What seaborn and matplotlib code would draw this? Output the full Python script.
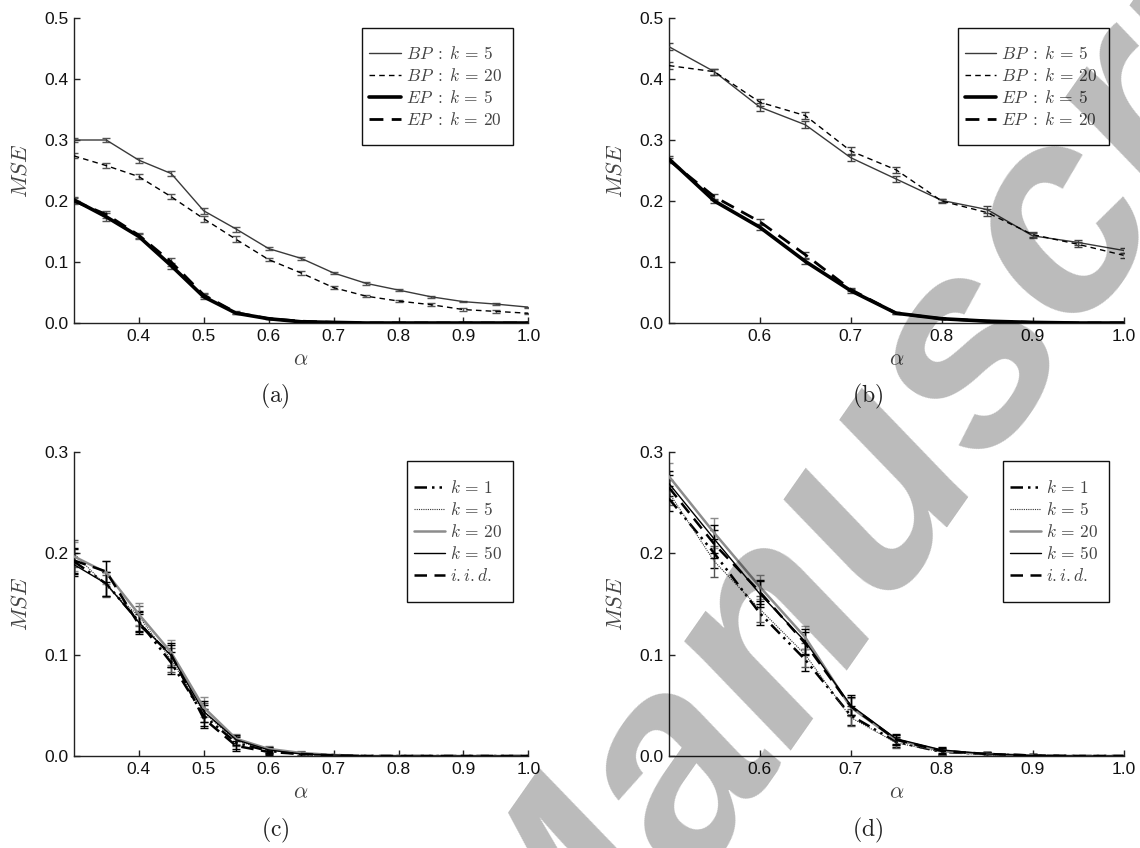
import numpy as np
import pandas as pd
import matplotlib
matplotlib.use("Agg")
import matplotlib.pyplot as plt
import seaborn as sns
from matplotlib.patches import Rectangle
from matplotlib.ticker import FormatStrFormatter

sns.set_theme(style="white")
plt.rcParams["font.family"] = ["Liberation Sans", "DejaVu Sans"]
plt.rcParams["mathtext.fontset"] = "cm"

# ---------------- data ----------------
alpha_low = [0.30, 0.35, 0.40, 0.45, 0.50, 0.55, 0.60, 0.65, 0.70, 0.75, 0.80, 0.85, 0.90, 0.95, 1.00]
alpha_high = [0.50, 0.55, 0.60, 0.65, 0.70, 0.75, 0.80, 0.85, 0.90, 0.95, 1.00]

# (a) BP vs EP, alpha from 0.3
bp5_a = [0.300, 0.300, 0.267, 0.245, 0.184, 0.154, 0.122, 0.106, 0.082, 0.065, 0.054, 0.043, 0.035, 0.031, 0.026]
bp20_a = [0.274, 0.258, 0.240, 0.207, 0.171, 0.137, 0.104, 0.082, 0.058, 0.044, 0.036, 0.030, 0.022, 0.019, 0.016]
ep5_a = [0.202, 0.174, 0.142, 0.094, 0.043, 0.016, 0.007, 0.002, 0.001, 0.0, 0.0, 0.0, 0.0, 0.0, 0.0]
ep20_a = [0.200, 0.178, 0.144, 0.100, 0.046, 0.017, 0.007, 0.003, 0.001, 0.0, 0.0, 0.0, 0.0, 0.0, 0.0]
bp5_a_err = [0.004, 0.004, 0.004, 0.004, 0.005, 0.004, 0.003, 0.003, 0.002, 0.002, 0.002, 0.002, 0.001, 0.001, 0.001]
bp20_a_err = [0.004, 0.004, 0.004, 0.004, 0.005, 0.005, 0.003, 0.003, 0.003, 0.002, 0.002, 0.002, 0.002, 0.002, 0.001]
ep5_a_err = [0.005, 0.006, 0.004, 0.005, 0.004, 0.002, 0.001, 0.0, 0.0, 0.0, 0.0, 0.0, 0.0, 0.0, 0.0]
ep20_a_err = [0.005, 0.006, 0.004, 0.006, 0.004, 0.002, 0.001, 0.0, 0.0, 0.0, 0.0, 0.0, 0.0, 0.0, 0.0]

# (b) BP vs EP, alpha from 0.5
bp5_b = [0.453, 0.412, 0.354, 0.325, 0.271, 0.236, 0.201, 0.186, 0.143, 0.132, 0.119]
bp20_b = [0.422, 0.412, 0.362, 0.340, 0.282, 0.251, 0.200, 0.181, 0.145, 0.129, 0.111]
ep5_b = [0.269, 0.200, 0.157, 0.101, 0.053, 0.016, 0.007, 0.003, 0.001, 0.0, 0.0]
ep20_b = [0.267, 0.207, 0.166, 0.112, 0.055, 0.016, 0.007, 0.003, 0.001, 0.0, 0.0]
bp5_b_err = [0.006, 0.005, 0.006, 0.006, 0.006, 0.005, 0.003, 0.006, 0.004, 0.004, 0.004]
bp20_b_err = [0.006, 0.005, 0.006, 0.006, 0.007, 0.005, 0.003, 0.006, 0.004, 0.004, 0.004]
ep5_b_err = [0.004, 0.004, 0.005, 0.004, 0.003, 0.002, 0.001, 0.0, 0.0, 0.0, 0.0]
ep20_b_err = [0.004, 0.005, 0.005, 0.005, 0.003, 0.002, 0.001, 0.0, 0.0, 0.0, 0.0]

# (c) EP for several k, alpha from 0.3
k1_c = [0.192, 0.170, 0.133, 0.092, 0.040, 0.013, 0.005, 0.002, 0.001, 0.0, 0.0, 0.0, 0.0, 0.0, 0.0]
k5_c = [0.200, 0.168, 0.138, 0.095, 0.043, 0.015, 0.006, 0.002, 0.001, 0.0, 0.0, 0.0, 0.0, 0.0, 0.0]
k20_c = [0.197, 0.181, 0.140, 0.102, 0.048, 0.017, 0.007, 0.003, 0.001, 0.0, 0.0, 0.0, 0.0, 0.0, 0.0]
k50_c = [0.189, 0.170, 0.132, 0.099, 0.044, 0.016, 0.006, 0.002, 0.001, 0.0, 0.0, 0.0, 0.0, 0.0, 0.0]
iid_c = [0.193, 0.182, 0.130, 0.100, 0.037, 0.010, 0.004, 0.002, 0.0005, 0.0, 0.0, 0.0, 0.0, 0.0, 0.0]
k1_c_err = [0.012, 0.012, 0.010, 0.011, 0.010, 0.006, 0.003, 0.002, 0.0, 0.0, 0.0, 0.0, 0.0, 0.0, 0.0]
k5_c_err = [0.013, 0.011, 0.010, 0.012, 0.009, 0.005, 0.003, 0.002, 0.0, 0.0, 0.0, 0.0, 0.0, 0.0, 0.0]
k20_c_err = [0.014, 0.011, 0.011, 0.012, 0.010, 0.005, 0.003, 0.002, 0.0, 0.0, 0.0, 0.0, 0.0, 0.0, 0.0]
k50_c_err = [0.011, 0.012, 0.010, 0.011, 0.010, 0.005, 0.003, 0.002, 0.0, 0.0, 0.0, 0.0, 0.0, 0.0, 0.0]
iid_c_err = [0.012, 0.010, 0.010, 0.012, 0.009, 0.005, 0.003, 0.002, 0.0, 0.0, 0.0, 0.0, 0.0, 0.0, 0.0]

# (d) EP for several k, alpha from 0.5
k1_d = [0.254, 0.200, 0.141, 0.095, 0.040, 0.014, 0.004, 0.002, 0.0005, 0.0, 0.0]
k5_d = [0.260, 0.192, 0.145, 0.100, 0.038, 0.013, 0.004, 0.001, 0.0003, 0.0, 0.0]
k20_d = [0.276, 0.220, 0.167, 0.117, 0.048, 0.016, 0.005, 0.002, 0.0005, 0.0, 0.0]
k50_d = [0.269, 0.214, 0.160, 0.113, 0.050, 0.017, 0.006, 0.002, 0.0005, 0.0, 0.0]
iid_d = [0.265, 0.209, 0.162, 0.111, 0.049, 0.016, 0.005, 0.002, 0.0005, 0.0, 0.0]
k1_d_err = [0.012, 0.014, 0.012, 0.011, 0.009, 0.005, 0.003, 0.002, 0.001, 0.0, 0.0]
k5_d_err = [0.012, 0.015, 0.013, 0.012, 0.008, 0.005, 0.003, 0.002, 0.001, 0.0, 0.0]
k20_d_err = [0.013, 0.015, 0.012, 0.011, 0.009, 0.005, 0.003, 0.002, 0.001, 0.0, 0.0]
k50_d_err = [0.012, 0.014, 0.013, 0.012, 0.010, 0.005, 0.003, 0.002, 0.001, 0.0, 0.0]
iid_d_err = [0.012, 0.014, 0.012, 0.011, 0.009, 0.005, 0.003, 0.002, 0.001, 0.0, 0.0]

bp_labels = [r"$BP\;:\;k\,=\,5$", r"$BP\;:\;k\,=\,20$", r"$EP\;:\;k\,=\,5$", r"$EP\;:\;k\,=\,20$"]
k_labels = [r"$k\,=\,1$", r"$k\,=\,5$", r"$k\,=\,20$", r"$k\,=\,50$", r"$\mathit{i.i.d.}$"]
panel_labels = ["(a)", "(b)", "(c)", "(d)"]

# ---------------- styles ----------------
bp_styles = [
    dict(color="#3a3a3a", lw=1.0, linestyle="-"),
    dict(color="black", lw=1.0, linestyle=(0, (4, 3))),
    dict(color="black", lw=2.6, linestyle="-"),
    dict(color="black", lw=2.0, linestyle=(0, (5, 3))),
]
k_styles = [
    dict(color="black", lw=1.8, linestyle=(0, (5, 2, 1, 2, 1, 2))),
    dict(color="#333333", lw=0.8, linestyle=(0, (1, 1))),
    dict(color="#8c8c8c", lw=1.8, linestyle="-"),
    dict(color="black", lw=1.0, linestyle="-"),
    dict(color="black", lw=1.8, linestyle=(0, (5, 3))),
]
k_ecolors = ["black", "#555555", "#8c8c8c", "black", "black"]

W, H = 1140, 848
fig = plt.figure(figsize=(W / 100, H / 100), dpi=100)


def add_axes_px(left, top, right, bottom):
    return fig.add_axes([left / W, 1 - bottom / H, (right - left) / W, (bottom - top) / H])


def draw_series(ax, x, y, err, style, ecolor):
    x = np.asarray(x)
    y = np.asarray(y)
    err = np.asarray(err)
    m = err > 0
    ax.errorbar(x[m], y[m], yerr=err[m], fmt="none", ecolor=ecolor,
                elinewidth=1.0, capsize=3.2, capthick=1.0, zorder=2)
    df = pd.DataFrame({"alpha": x, "mse": y})
    sns.lineplot(data=df, x="alpha", y="mse", ax=ax, legend=False,
                 zorder=3, **style)
    return ax.lines[-1]


def style_axes(ax, xlo, ytop, xticks, yticks):
    ax.set_xlim(xlo, 1.0)
    ax.set_ylim(0, ytop)
    ax.set_xticks(xticks)
    ax.set_yticks(yticks)
    ax.xaxis.set_major_formatter(FormatStrFormatter("%.1f"))
    ax.yaxis.set_major_formatter(FormatStrFormatter("%.1f"))
    sns.despine(ax=ax)
    for s in ("left", "bottom"):
        ax.spines[s].set_color("#222222")
        ax.spines[s].set_linewidth(1.0)
    ax.tick_params(direction="in", length=4, width=1, color="#222222",
                   labelsize=12.5, labelcolor="#111111", pad=4,
                   left=True, bottom=True)
    ax.set_xlabel(r"$\alpha$", fontsize=16, color="#444444")
    ax.set_ylabel(r"$MSE$", fontsize=16, color="#444444")
    ax.xaxis.set_label_coords(0.5, -0.085)
    ax.yaxis.set_label_coords(-0.093, 0.5)
    ax.grid(False)


def boxed_legend(ax, handles, labels, x0, y0, w, h):
    rect = Rectangle((x0, y0), w, h, transform=ax.transAxes, facecolor="white",
                     edgecolor="#111111", lw=1.0, zorder=5, clip_on=False)
    ax.add_patch(rect)
    leg = ax.legend(handles, labels, loc="center left", bbox_to_anchor=(x0, y0 + h / 2),
                    bbox_transform=ax.transAxes, frameon=False, fontsize=12.5,
                    handlelength=1.8, handletextpad=0.3, labelspacing=0.3,
                    borderpad=0.4, borderaxespad=0.0)
    leg.set_zorder(6)
    for t in leg.get_texts():
        t.set_color("#444444")
    return leg


ax_a = add_axes_px(73.8, 18, 528.4, 323)
ax_b = add_axes_px(668.9, 18, 1123.5, 323)
ax_c = add_axes_px(73.8, 452, 528.4, 756)
ax_d = add_axes_px(668.9, 452, 1123.5, 756)

# (a)
hs = []
for y, e, st in zip([bp5_a, bp20_a, ep5_a, ep20_a],
                    [bp5_a_err, bp20_a_err, ep5_a_err, ep20_a_err], bp_styles):
    hs.append(draw_series(ax_a, alpha_low, y, e, st, "#555555"))
style_axes(ax_a, 0.3, 0.5, [0.4, 0.5, 0.6, 0.7, 0.8, 0.9, 1.0], [0, 0.1, 0.2, 0.3, 0.4, 0.5])
boxed_legend(ax_a, hs, bp_labels, 0.635, 0.584, 0.332, 0.383)

# (b)
hs = []
for y, e, st in zip([bp5_b, bp20_b, ep5_b, ep20_b],
                    [bp5_b_err, bp20_b_err, ep5_b_err, ep20_b_err], bp_styles):
    hs.append(draw_series(ax_b, alpha_high, y, e, st, "#444444"))
style_axes(ax_b, 0.5, 0.5, [0.6, 0.7, 0.8, 0.9, 1.0], [0, 0.1, 0.2, 0.3, 0.4, 0.5])
boxed_legend(ax_b, hs, bp_labels, 0.636, 0.584, 0.332, 0.383)

# (c)
hs = []
for y, e, st, ec in zip([k1_c, k5_c, k20_c, k50_c, iid_c],
                        [k1_c_err, k5_c_err, k20_c_err, k50_c_err, iid_c_err],
                        k_styles, k_ecolors):
    hs.append(draw_series(ax_c, alpha_low, y, e, st, ec))
style_axes(ax_c, 0.3, 0.3, [0.4, 0.5, 0.6, 0.7, 0.8, 0.9, 1.0], [0, 0.1, 0.2, 0.3])
boxed_legend(ax_c, hs, k_labels, 0.733, 0.507, 0.234, 0.463)

# (d)
hs = []
for y, e, st, ec in zip([k1_d, k5_d, k20_d, k50_d, iid_d],
                        [k1_d_err, k5_d_err, k20_d_err, k50_d_err, iid_d_err],
                        k_styles, k_ecolors):
    hs.append(draw_series(ax_d, alpha_high, y, e, st, ec))
style_axes(ax_d, 0.5, 0.3, [0.6, 0.7, 0.8, 0.9, 1.0], [0, 0.1, 0.2, 0.3])
boxed_legend(ax_d, hs, k_labels, 0.734, 0.507, 0.234, 0.463)

# sub-figure captions
for lab, (px, py) in zip(panel_labels, [(275, 396), (868, 396), (275, 830), (868, 830)]):
    fig.text(px / W, 1 - py / H, r"$\mathrm{" + lab + "}$", fontsize=17,
             ha="center", va="center", color="#222222")

# diagonal watermark
fig.text(935 / W, 1 - 410 / H, "Manuscript", rotation=55, fontsize=205,
         style="italic", weight="bold", family="Liberation Sans", color="black",
         alpha=0.27, ha="center", va="center", zorder=20)

fig.savefig("out.png", dpi=100)
